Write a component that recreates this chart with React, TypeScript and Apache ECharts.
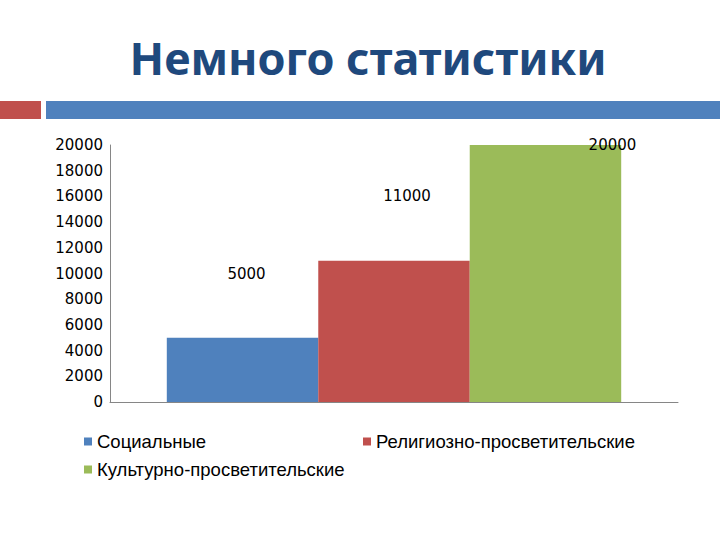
import React, { useEffect, useRef } from 'react';
import * as echarts from 'echarts';

const seriesNames = ['Социальные', 'Религиозно-просветительские', 'Культурно-просветительские'];
const seriesValues = [5000, 11000, 20000];
const seriesColors = ['#4F81BD', '#C0504D', '#9BBB59'];
// смещения подписей как на исходном слайде
const labelOffsets = [
  [4, -51],
  [13, -52],
  [67, 12],
];

const App: React.FC = () => {
  const chartRef = useRef<HTMLDivElement>(null);

  useEffect(() => {
    document.body.style.margin = '0';
    if (!chartRef.current) return;
    const chart = echarts.init(chartRef.current, undefined, { renderer: 'svg' });

    const legendPos = [
      { left: 84, top: 432 },
      { left: 363, top: 432 },
      { left: 84, top: 460 },
    ];

    const option = {
      animation: false,
      graphic: [
        {
          type: 'text',
          x: 368,
          y: 57,
          style: {
            text: 'Немного статистики',
            fill: '#1F497D',
            font: 'bold 45px "Noto Sans"',
            align: 'center',
            verticalAlign: 'middle',
          },
        },
        { type: 'rect', shape: { x: 0, y: 101, width: 41, height: 18 }, style: { fill: '#C0504D' } },
        { type: 'rect', shape: { x: 46, y: 101, width: 674, height: 18 }, style: { fill: '#4F81BD' } },
      ],
      grid: { left: 110, right: 42, top: 145, bottom: 138 },
      legend: seriesNames.map((name, i) => ({
        data: [name],
        left: legendPos[i].left,
        top: legendPos[i].top,
        itemWidth: 8,
        itemHeight: 8,
        itemGap: 4,
        icon: 'rect',
        padding: 0,
        textStyle: { fontFamily: '"Liberation Sans", Arial', fontSize: 18.5, color: '#000' },
      })),
      xAxis: {
        type: 'category',
        data: [''],
        axisLine: { lineStyle: { color: '#868686' } },
        axisTick: { show: false },
        axisLabel: { show: false },
      },
      yAxis: {
        type: 'value',
        min: 0,
        max: 20000,
        interval: 2000,
        axisLine: { show: true, lineStyle: { color: '#868686' } },
        axisTick: { show: false },
        splitLine: { show: false },
        axisLabel: {
          color: '#000',
          fontFamily: '"DejaVu Sans"',
          fontSize: 15,
          margin: 7,
          formatter: (v: number) => String(v),
        },
      },
      series: seriesNames.map((name, i) => ({
        name,
        type: 'bar',
        data: [seriesValues[i]],
        barGap: '0%',
        barCategoryGap: '20%',
        itemStyle: { color: seriesColors[i] },
        label: {
          show: true,
          position: 'top',
          offset: labelOffsets[i],
          color: '#000',
          fontFamily: '"DejaVu Sans"',
          fontSize: 15,
        },
      })),
    };

    chart.setOption(option);
    return () => {
      chart.dispose();
    };
  }, []);

  return <div ref={chartRef} style={{ width: 720, height: 540 }} />;
};

export default App;
